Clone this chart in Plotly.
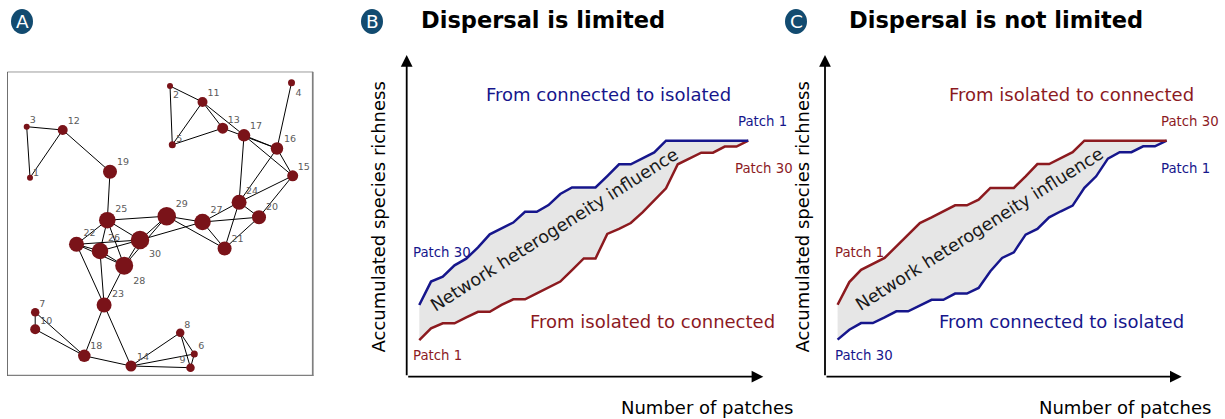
import plotly.graph_objects as go

W, H = 1225, 419

# ---------------- Panel A: patch network ----------------
node_id = list(range(1, 31))
node_x = [22.7, 162.7, 19.4, 284.2, 165.0, 187.0, 27.9, 172.9, 183.2, 27.9,
          195.2, 55.4, 215.4, 123.7, 285.4, 269.7, 236.7, 77.0, 102.7, 251.7,
          217.3, 69.2, 96.8, 231.8, 100.0, 92.7, 195.2, 116.9, 159.4, 132.7]
node_y = [198.3, 290.0, 249.3, 293.3, 231.2, 22.0, 63.8, 43.3, 8.3, 46.7,
          274.0, 246.0, 247.8, 10.0, 200.2, 227.5, 240.7, 20.2, 204.3, 158.8,
          127.5, 131.7, 71.0, 173.8, 155.8, 125.0, 154.0, 110.3, 159.8, 136.0]
node_weight = [6, 6, 6, 7, 7, 7, 8.5, 8.5, 8.5, 10, 10, 10, 11, 11, 11, 12.5, 12.5, 12.5,
               14, 14, 14, 15, 15, 15, 16.5, 16.5, 16.5, 18, 18.5, 18.5]
edges = [(3, 12), (3, 1), (1, 12), (12, 19), (19, 25), (2, 11), (2, 5), (11, 5),
         (11, 13), (11, 17), (5, 13), (13, 16), (17, 16), (17, 15), (17, 24),
         (4, 16), (16, 24), (16, 15), (15, 24), (15, 20), (24, 27), (24, 20),
         (24, 21), (27, 20), (27, 21), (29, 27), (29, 21), (20, 21), (30, 27),
         (25, 29), (25, 22), (25, 26), (25, 30), (25, 28), (22, 30), (22, 26),
         (22, 28), (26, 30), (26, 28), (30, 28), (29, 30), (29, 28), (22, 23),
         (26, 23), (28, 23), (23, 18), (23, 14), (7, 10), (7, 18), (10, 18),
         (18, 14), (14, 8), (14, 6), (14, 9), (8, 6), (8, 9), (6, 9)]
# label offsets (px, right / down)
label_dx = [6, 6, 6, 7, 7, 7, 7, 7, -8, 11, 11, 11, 11, 12, 11, 13, 12, 12, 13, 13,
            13, 13, 14, 13, 14, 14, 14, 15, 15, 15]
label_dy = [-4, 10, -6, 10.5, -5, -7, -8, -7, -7, -8, -8, -8, -8, -8, -8, -9, -9, -9, -9, -10,
            -9, -11, -10, -11, -11, -12, -11, 16, -12, 15]

# ---------------- Panels B & C: accumulation curves ----------------
patches = list(range(1, 30))
# Panel B (dispersal limited)
b_connected_first = [30.4, 40.3, 42.4, 47.2, 50.0, 54.8, 60.3, 62.7, 65.3, 69.9, 69.9, 72.7,
                     77.4, 80.2, 80.2, 80.2, 85.0, 90.0, 90.0, 92.5, 95.0, 100, 100, 100,
                     100, 100, 100, 100, 100]
b_isolated_first = [15.5, 20.5, 22.6, 22.6, 25.1, 27.5, 27.5, 30.4, 32.8, 32.8, 35.3, 37.8,
                    40.3, 45.2, 50.1, 50.1, 60.5, 62.6, 65.1, 69.6, 74.6, 79.8, 90.0, 92.5,
                    94.9, 94.9, 97.5, 97.5, 100]
# Panel C (dispersal not limited)
c_isolated_first = [30.5, 40.1, 45.3, 47.7, 50.3, 55.2, 60.2, 65.1, 67.5, 70.1, 72.6, 72.6,
                    75.0, 80.0, 80.0, 80.0, 84.9, 90.1, 90.1, 92.7, 95.1, 100, 100, 100,
                    100, 100, 100, 100, 100]
c_connected_first = [15.7, 19.9, 22.7, 22.7, 25.1, 27.7, 27.7, 30.1, 32.6, 32.6, 35.2, 35.2,
                     37.6, 44.7, 50.3, 52.7, 60.2, 62.6, 67.5, 70.1, 72.5, 80.0, 84.9, 92.4,
                     95.1, 95.1, 97.6, 97.6, 100]

BLUE = "#16168c"
RED = "#8c1a1f"
NODE = "#7a1319"
FILL = "#e6e6e6"
FONT = "DejaVu Sans"

fig = go.Figure()

# network edges
ex, ey = [], []
for a, b in edges:
    ex += [node_x[a - 1], node_x[b - 1], None]
    ey += [node_y[a - 1], node_y[b - 1], None]
fig.add_trace(go.Scatter(x=ex, y=ey, mode="lines", line=dict(color="black", width=1),
                         hoverinfo="skip", showlegend=False, xaxis="x", yaxis="y"))
fig.add_trace(go.Scatter(x=node_x, y=node_y, mode="markers",
                         marker=dict(size=node_weight, color=NODE, opacity=1, line=dict(width=0)),
                         showlegend=False, xaxis="x", yaxis="y"))
fig.add_trace(go.Scatter(x=[x + dx for x, dx in zip(node_x, label_dx)],
                         y=[y - dy for y, dy in zip(node_y, label_dy)],
                         mode="text", text=[str(i) for i in node_id],
                         textfont=dict(family=FONT, size=9.5, color="#5a5a5a"),
                         showlegend=False, xaxis="x", yaxis="y"))


def add_panel(xa, ya, upper, lower, up_col, lo_col):
    fig.add_trace(go.Scatter(x=patches, y=lower, mode="lines",
                             line=dict(color=lo_col, width=2.5), showlegend=False,
                             xaxis=xa, yaxis=ya))
    fig.add_trace(go.Scatter(x=patches, y=upper, mode="lines", fill="tonexty",
                             fillcolor=FILL, line=dict(color=up_col, width=2.5),
                             showlegend=False, xaxis=xa, yaxis=ya))


add_panel("x2", "y2", b_connected_first, b_isolated_first, BLUE, RED)
add_panel("x3", "y3", c_isolated_first, c_connected_first, RED, BLUE)


def px(x, y):
    return x / W, 1 - y / H


ann = []


def text(x, y, s, size, color="black", anchor="center", angle=0, bold=False):
    X, Y = px(x, y)
    ann.append(dict(x=X, y=Y, xref="paper", yref="paper", text=f"<b>{s}</b>" if bold else s,
                    showarrow=False, xanchor=anchor, yanchor="middle", textangle=angle,
                    font=dict(family=FONT, size=size, color=color)))


XR = [-0.07, 30.28]
YR = [0, 136.3]
for xa, ya in (("x2", "y2"), ("x3", "y3")):
    ann.append(dict(x=XR[1], y=0, ax=XR[0], ay=0, xref=xa, yref=ya, axref=xa, ayref=ya,
                    text="", showarrow=True, arrowhead=2, arrowsize=1.3, arrowwidth=1.8,
                    arrowcolor="black", standoff=0, startstandoff=0))
    ann.append(dict(x=XR[0], y=YR[1], ax=XR[0], ay=0, xref=xa, yref=ya, axref=xa, ayref=ya,
                    text="", showarrow=True, arrowhead=2, arrowsize=1.3, arrowwidth=1.8,
                    arrowcolor="black", standoff=0, startstandoff=0))

# Panel B texts
text(419, 20, "Dispersal is limited", 22.5, anchor="left", bold=True)
text(608.5, 94, "From connected to isolated", 18, BLUE)
text(652.5, 321, "From isolated to connected", 18, RED)
text(736, 121, "Patch 1", 13.3, BLUE, anchor="left")
text(733, 168, "Patch 30", 13.3, RED, anchor="left")
text(411.5, 252, "Patch 30", 13.3, BLUE, anchor="left")
text(411.5, 355, "Patch 1", 13.3, RED, anchor="left")
text(554, 230, "Network heterogeneity influence", 17.6, "#1a1a1a", angle=-32.3)
text(377.5, 217, "Accumulated species richness", 18, angle=-90)
text(706.5, 407, "Number of patches", 18)

# Panel C texts
text(846.7, 20, "Dispersal is not limited", 22.5, anchor="left", bold=True)
text(1071.3, 94, "From isolated to connected", 18, RED)
text(1061.3, 321, "From connected to isolated", 18, BLUE)
text(1159.3, 121, "Patch 30", 13.3, RED, anchor="left")
text(1159.3, 168, "Patch 1", 13.3, BLUE, anchor="left")
text(832.7, 252, "Patch 1", 13.3, RED, anchor="left")
text(832.7, 355, "Patch 30", 13.3, BLUE, anchor="left")
text(979.5, 229, "Network heterogeneity influence", 17.6, "#1a1a1a", angle=-32.3)
text(801.5, 217, "Accumulated species richness", 18, angle=-90)
text(1125.4, 407, "Number of patches", 18)

# Panel letters
shapes = []
for cx, letter in ((22, "A"), (372, "B"), (796, "C")):
    x0, y0 = px(cx - 11, 9)
    x1, y1 = px(cx + 11, 34)
    shapes.append(dict(type="circle", xref="paper", yref="paper", x0=x0, x1=x1, y0=y0, y1=y1,
                       fillcolor="#124b70", line=dict(width=0)))
    text(cx, 22, letter, 18.5, "white")

# Network frame
shapes.append(dict(type="rect", xref="x", yref="y", x0=0, x1=306, y0=0, y1=304.3,
                   line=dict(color="black", width=1), layer="below"))
shapes.append(dict(type="line", xref="x", yref="y", x0=305.6, x1=305.6, y0=-0.5, y1=304.3,
                   line=dict(color="#7f7f7f", width=2)))
shapes.append(dict(type="line", xref="x", yref="y", x0=0, x1=306.5, y0=0.3, y1=0.3,
                   line=dict(color="#7f7f7f", width=2)))

hidden = dict(visible=False, fixedrange=True)
fig.update_layout(
    width=W, height=H, margin=dict(l=0, r=0, t=0, b=0),
    paper_bgcolor="white", plot_bgcolor="white", showlegend=False,
    xaxis=dict(hidden, domain=[7.3 / W, 313.3 / W], range=[0, 306]),
    yaxis=dict(hidden, domain=[1 - 376 / H, 1 - 71.7 / H], range=[0, 304.3]),
    xaxis2=dict(hidden, domain=[406.7 / W, 763.3 / W], range=XR),
    yaxis2=dict(hidden, domain=[1 - 376.7 / H, 1 - 55 / H], range=YR),
    xaxis3=dict(hidden, domain=[825 / W, 1181.7 / W], range=XR),
    yaxis3=dict(hidden, domain=[1 - 376.7 / H, 1 - 55 / H], range=YR),
    annotations=ann, shapes=shapes,
)

fig.write_html("out.html", config={"displayModeBar": False},
               post_script="document.body.style.margin='0';document.body.style.overflow='hidden';")
